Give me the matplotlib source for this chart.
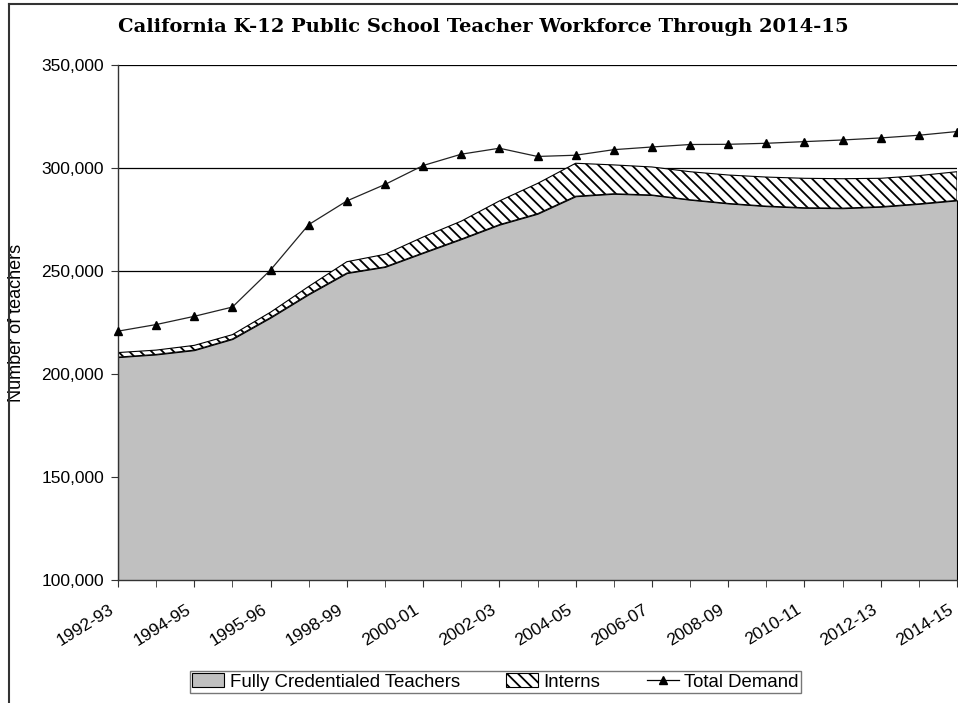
import numpy as np
import matplotlib
matplotlib.use("Agg")
import matplotlib.pyplot as plt
from matplotlib.patches import Patch
from matplotlib.lines import Line2D
import matplotlib.transforms as mtransforms

# values, one point per school year
credentialed = [208200, 209500, 211600, 217000, 227400, 238700, 249000, 252000,
                258800, 265500, 272500, 277800, 286300, 287500, 286900, 284600,
                282800, 281500, 280700, 280500, 281200, 282600, 284300]
interns = [2200, 2100, 2300, 2100, 2600, 3800, 5500, 6100, 7700, 8700, 11500,
           14700, 16000, 14000, 13600, 13600, 13800, 14100, 14300, 14300,
           13800, 13700, 13900]
total_demand = [220800, 224000, 228000, 232500, 250500, 272500, 284000, 292000,
                301200, 306700, 309600, 305600, 306200, 308900, 310200, 311400,
                311500, 312000, 312800, 313600, 314600, 315900, 317700]
# labels shown on every other point
tick_labels = ['1992-93', '1994-95', '1995-96', '1998-99', '2000-01', '2002-03',
               '2004-05', '2006-07', '2008-09', '2010-11', '2012-13', '2014-15']

plt.rcParams['font.family'] = ['Liberation Sans', 'DejaVu Sans']
plt.rcParams['hatch.linewidth'] = 1.3

W, H = 958, 703
fig = plt.figure(figsize=(W / 100, H / 100), dpi=100)
ax = fig.add_axes([118 / W, 1 - 580 / H, (957 - 118) / W, (580 - 65) / H])

x = np.arange(len(total_demand))
cred = np.array(credentialed)
top = cred + np.array(interns)

ax.fill_between(x, 0, cred, facecolor='#c0c0c0', edgecolor='black',
                linewidth=0.8, zorder=2)
ax.fill_between(x, cred, top, facecolor='white', edgecolor='black',
                hatch='\\\\\\', linewidth=0.8, zorder=2)
ax.plot(x, total_demand, color='#222222', linewidth=0.9, marker='^',
        markersize=6, markerfacecolor='black', markeredgecolor='black',
        zorder=4, clip_on=False)

ax.set_xlim(0, len(x) - 1)
ax.set_ylim(100000, 350000)
ax.set_yticks(np.arange(100000, 350001, 50000))
ax.yaxis.set_major_formatter(matplotlib.ticker.FuncFormatter(lambda v, p: f'{int(v):,}'))
ax.yaxis.grid(True, color='black', linewidth=0.9, zorder=0)
ax.set_axisbelow(True)

ax.set_xticks(x, minor=True)
ax.set_xticks(x[::2])
ax.set_xticklabels(tick_labels, rotation=32, ha='right', va='center',
                   rotation_mode='anchor', fontsize=12.5, color='black')
ax.tick_params(axis='x', which='both', length=5, color='#333333')
ax.tick_params(axis='x', which='major', pad=15.5)
ax.tick_params(axis='y', length=5, color='#333333', labelsize=12.5,
               labelcolor='black', pad=5)
off = mtransforms.ScaledTranslation(-5 / 100, 0, fig.dpi_scale_trans)
for lab in ax.get_xticklabels():
    lab.set_transform(lab.get_transform() + off)

for s in ['top', 'right']:
    ax.spines[s].set_visible(False)
for s in ['left', 'bottom']:
    ax.spines[s].set_color('#333333')
    ax.spines[s].set_linewidth(1.0)

ax.set_ylabel('Number of teachers', fontsize=13, color='black')
ax.yaxis.set_label_coords((25 - 118) / (957 - 118), 0.5)

fig.text(483 / W, 1 - 27 / H,
         'California K-12 Public School Teacher Workforce Through 2014-15',
         family='DejaVu Serif', weight='bold', fontsize=14,
         ha='center', va='center')

handles = [Patch(facecolor='#c0c0c0', edgecolor='black', linewidth=0.8),
           Patch(facecolor='white', edgecolor='black', hatch='\\\\\\', linewidth=0.8),
           Line2D([], [], color='black', linewidth=0.9, marker='^', markersize=6)]
leg = fig.legend(handles, ['Fully Credentialed Teachers', 'Interns', 'Total Demand'],
                 loc='center', bbox_to_anchor=(495.5 / W, 1 - 682 / H), ncol=3,
                 fontsize=13.4, frameon=True, fancybox=False, edgecolor='#555555',
                 borderpad=0.15, handlelength=1.7, handleheight=0.7,
                 handletextpad=0.3, columnspacing=2.5, borderaxespad=0)
leg.get_frame().set_linewidth(1.0)

# outer chart border (only left and top fall inside the picture)
fig.add_artist(Line2D([8.5 / W, 8.5 / W], [0, 1 - 4 / H], color='#333333',
                      linewidth=1.5, transform=fig.transFigure))
fig.add_artist(Line2D([8.5 / W, 1], [1 - 4 / H, 1 - 4 / H], color='#333333',
                      linewidth=1.5, transform=fig.transFigure))

fig.savefig('out.png', dpi=100)
